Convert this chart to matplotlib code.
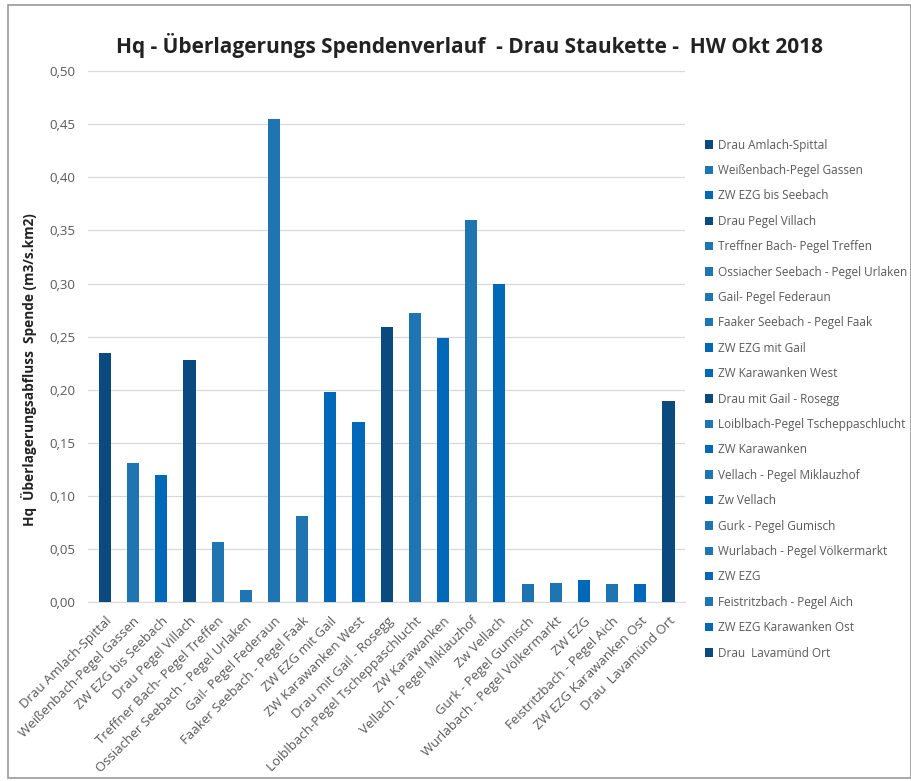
import matplotlib.pyplot as plt
from matplotlib.patches import Rectangle

plt.rcParams['font.family'] = ['Open Sans', 'DejaVu Sans']

names = ['Drau Amlach-Spittal', 'Weißenbach-Pegel Gassen', 'ZW EZG bis Seebach',
         'Drau Pegel Villach', 'Treffner Bach- Pegel Treffen',
         'Ossiacher Seebach - Pegel Urlaken', 'Gail- Pegel Federaun',
         'Faaker Seebach - Pegel Faak', 'ZW EZG mit Gail', 'ZW Karawanken West',
         'Drau mit Gail - Rosegg', 'Loiblbach-Pegel Tscheppaschlucht',
         'ZW Karawanken', 'Vellach - Pegel Miklauzhof', 'Zw Vellach',
         'Gurk - Pegel Gumisch', 'Wurlabach - Pegel Völkermarkt', 'ZW EZG',
         'Feistritzbach - Pegel Aich', 'ZW EZG Karawanken Ost',
         'Drau  Lavamünd Ort']
spende = [0.235, 0.131, 0.120, 0.228, 0.057, 0.011, 0.455, 0.081, 0.198, 0.170,
          0.259, 0.272, 0.249, 0.360, 0.300, 0.017, 0.018, 0.021, 0.017, 0.017,
          0.189]
dark, mid, bright = '#0b4a7e', '#1f75b2', '#0068b8'
colors = [dark, mid, bright, dark, mid, mid, mid, mid, bright, bright,
          dark, mid, bright, mid, bright, mid, mid, bright, mid, bright, dark]

fig = plt.figure(figsize=(9.12, 7.81), dpi=100)
ax = fig.add_axes([0.0965, 0.229, 0.655, 0.68])

for i in range(len(names)):
    ax.bar(i, spende[i], width=0.43, color=colors[i], label=names[i], zorder=3)

ax.set_xlim(-0.6, len(names) - 0.4)
ax.set_ylim(0, 0.5)
ax.set_yticks([i * 0.05 for i in range(11)])
ax.set_yticklabels([('%.2f' % (i * 0.05)).replace('.', ',') for i in range(11)],
                   fontsize=9.5, color='#595959')
ax.set_xticks(range(len(names)))
ax.set_xticklabels(names, rotation=45, ha='right', rotation_mode='anchor',
                   fontsize=9.5, color='#595959')
ax.tick_params(axis='y', length=0, pad=9)
ax.tick_params(axis='x', length=0, pad=9)
ax.grid(axis='y', color='#d9d9d9', linewidth=0.9, zorder=0)
for s in ['top', 'right', 'left']:
    ax.spines[s].set_visible(False)
ax.spines['bottom'].set_color('#d9d9d9')

ax.set_ylabel('Hq  Überlagerungsabfluss  Spende (m3/s.km2)', fontsize=9.8,
              fontweight='bold', color='#222222')
ax.yaxis.set_label_coords(-0.085, 0.437)

fig.text(0.515, 0.942, 'Hq - Überlagerungs Spendenverlauf  - Drau Staukette -  HW Okt 2018',
         ha='center', va='center', fontsize=15, fontweight='bold', color='#222222')

fig.legend(loc='upper left', bbox_to_anchor=(0.768, 0.8286), frameon=False,
           fontsize=8.5, labelcolor='#595959', handlelength=0.7, handleheight=0.7,
           handletextpad=0.4, labelspacing=1.05, borderaxespad=0)

fig.patches.append(Rectangle((0.009, 0.004), 0.99, 0.99, transform=fig.transFigure,
                             fill=False, edgecolor='#9a9a9a', linewidth=1.2))

fig.savefig('out.png', dpi=100)
